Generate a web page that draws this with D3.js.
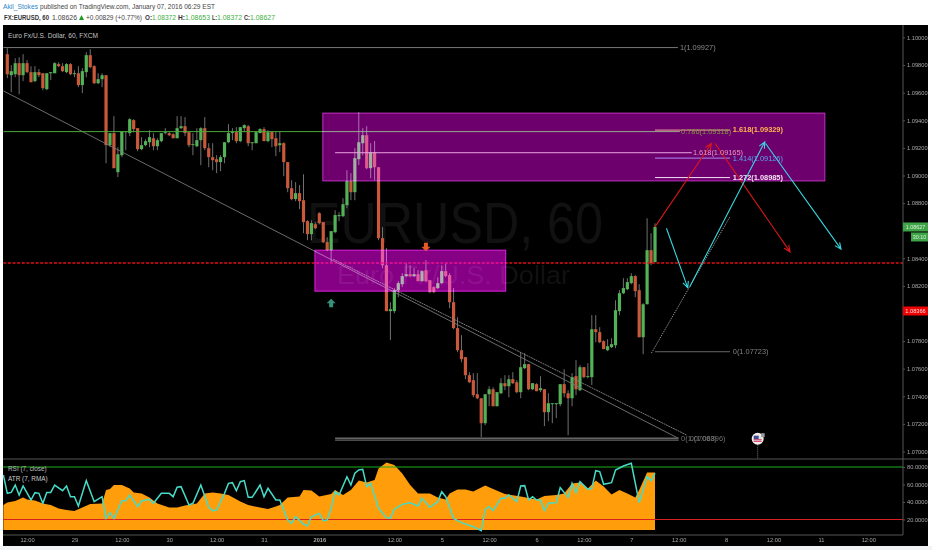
<!DOCTYPE html>
<html><head><meta charset="utf-8">
<style>html,body{margin:0;padding:0;background:#fff;overflow:hidden}svg{display:block}text{font-family:"Liberation Sans",Arial,sans-serif}</style>
<script src="https://cdn.jsdelivr.net/npm/d3@7"></script></head><body>
<svg id="c" width="932" height="550"></svg>
<script>
// ---- candle data (EURUSD 60 min), one entry per bar
const opens=[1.09879,1.09727,1.09734,1.09814,1.09727,1.09814,1.09749,1.09684,1.09749,1.09741,1.09626,1.09741,1.09741,1.09807,1.09792,1.09749,1.09807,1.09734,1.09741,1.09655,1.09749,1.09872,1.09792,1.09669,1.09698,1.09727,1.09220,1.09307,1.09024,1.09147,1.09314,1.09307,1.09401,1.09343,1.09191,1.09220,1.09241,1.09270,1.09212,1.09249,1.09307,1.09307,1.09299,1.09270,1.09343,1.09357,1.09314,1.09220,1.09212,1.09256,1.09343,1.09198,1.09133,1.09118,1.09097,1.09133,1.09241,1.09307,1.09314,1.09249,1.09343,1.09357,1.09234,1.09234,1.09307,1.09336,1.09249,1.09314,1.09270,1.09220,1.09234,1.09097,1.08908,1.08829,1.08872,1.08821,1.08669,1.08575,1.08647,1.08727,1.08662,1.08517,1.08459,1.08589,1.08705,1.08705,1.08785,1.08959,1.08879,1.09118,1.09234,1.09292,1.09053,1.09169,1.09060,1.08546,1.08350,1.08017,1.08017,1.08169,1.08212,1.08271,1.08285,1.08271,1.08285,1.08234,1.08314,1.08241,1.08191,1.08184,1.08220,1.08307,1.08278,1.08082,1.07894,1.07734,1.07684,1.07553,1.07517,1.07415,1.07386,1.07205,1.07415,1.07451,1.07328,1.07422,1.07495,1.07473,1.07524,1.07502,1.07430,1.07604,1.07633,1.07451,1.07488,1.07444,1.07451,1.07285,1.07343,1.07343,1.07343,1.07488,1.07422,1.07386,1.07546,1.07444,1.07611,1.07539,1.07539,1.07886,1.07865,1.07799,1.07734,1.07756,1.07770,1.08017,1.08147,1.08176,1.08220,1.08271,1.08169,1.07828,1.08067,1.08459,1.08372];
const highs=[1.09922,1.09799,1.09850,1.09857,1.09879,1.09836,1.09792,1.09792,1.09771,1.09741,1.09741,1.09749,1.09821,1.09821,1.09814,1.09814,1.09814,1.09763,1.09792,1.09778,1.09893,1.09915,1.09799,1.09741,1.09741,1.09727,1.09307,1.09430,1.09205,1.09321,1.09321,1.09415,1.09408,1.09343,1.09278,1.09263,1.09328,1.09307,1.09270,1.09307,1.09343,1.09314,1.09307,1.09430,1.09430,1.09423,1.09314,1.09307,1.09343,1.09350,1.09423,1.09234,1.09234,1.09147,1.09147,1.09241,1.09372,1.09343,1.09350,1.09350,1.09372,1.09365,1.09241,1.09314,1.09343,1.09350,1.09328,1.09321,1.09321,1.09321,1.09241,1.09097,1.08966,1.08952,1.08930,1.09009,1.08676,1.08676,1.08662,1.08734,1.08662,1.08553,1.08597,1.08749,1.08734,1.08836,1.09038,1.09017,1.09198,1.09459,1.09343,1.09357,1.09234,1.09249,1.09060,1.08626,1.08474,1.08082,1.08184,1.08234,1.08292,1.08365,1.08350,1.08329,1.08314,1.08314,1.08386,1.08241,1.08198,1.08263,1.08350,1.08365,1.08292,1.08184,1.07973,1.07843,1.07684,1.07575,1.07568,1.07568,1.07386,1.07415,1.07473,1.07466,1.07430,1.07531,1.07553,1.07553,1.07575,1.07517,1.07720,1.07712,1.07633,1.07495,1.07495,1.07546,1.07451,1.07422,1.07350,1.07350,1.07488,1.07596,1.07444,1.07568,1.07662,1.07626,1.07611,1.07640,1.07988,1.07988,1.07901,1.07807,1.07814,1.07821,1.08096,1.08169,1.08256,1.08256,1.08292,1.08278,1.08212,1.08075,1.08690,1.08582,1.08653];
const lows=[1.09705,1.09604,1.09712,1.09589,1.09684,1.09741,1.09676,1.09676,1.09712,1.09618,1.09618,1.09691,1.09741,1.09785,1.09749,1.09741,1.09727,1.09712,1.09640,1.09597,1.09712,1.09778,1.09662,1.09662,1.09640,1.09089,1.09205,1.09053,1.08988,1.09133,1.09183,1.09285,1.09314,1.09176,1.09183,1.09212,1.09205,1.09183,1.09183,1.09241,1.09299,1.09285,1.09270,1.09270,1.09336,1.09285,1.09205,1.09147,1.09205,1.09075,1.09183,1.09060,1.09038,1.09017,1.09031,1.09089,1.09234,1.09256,1.09234,1.09241,1.09314,1.09212,1.09183,1.09234,1.09307,1.09249,1.09241,1.09205,1.09140,1.09169,1.08995,1.08879,1.08821,1.08814,1.08756,1.08582,1.08531,1.08531,1.08611,1.08647,1.08510,1.08452,1.08372,1.08582,1.08669,1.08698,1.08763,1.08821,1.08821,1.09075,1.09147,1.09046,1.08980,1.08966,1.08531,1.08329,1.08017,1.07807,1.08002,1.08118,1.08191,1.08263,1.08263,1.08263,1.08234,1.08234,1.08227,1.08147,1.08147,1.08176,1.08212,1.08263,1.08038,1.07886,1.07720,1.07647,1.07524,1.07495,1.07393,1.07379,1.07104,1.07191,1.07328,1.07328,1.07328,1.07415,1.07444,1.07393,1.07488,1.07422,1.07386,1.07597,1.07444,1.07444,1.07437,1.07430,1.07184,1.07220,1.07205,1.07242,1.07328,1.07393,1.07118,1.07328,1.07408,1.07437,1.07531,1.07531,1.07481,1.07792,1.07785,1.07742,1.07727,1.07749,1.07749,1.07988,1.08140,1.08169,1.08212,1.08118,1.07828,1.07705,1.08067,1.08350,1.08372];
const closes=[1.09734,1.09756,1.09814,1.09727,1.09814,1.09749,1.09676,1.09749,1.09727,1.09633,1.09741,1.09749,1.09814,1.09792,1.09756,1.09807,1.09734,1.09741,1.09655,1.09756,1.09872,1.09785,1.09669,1.09698,1.09727,1.09220,1.09307,1.09053,1.09154,1.09321,1.09321,1.09408,1.09336,1.09191,1.09220,1.09249,1.09278,1.09212,1.09256,1.09307,1.09314,1.09292,1.09270,1.09343,1.09357,1.09307,1.09220,1.09227,1.09256,1.09343,1.09198,1.09133,1.09111,1.09097,1.09133,1.09241,1.09307,1.09314,1.09249,1.09350,1.09365,1.09234,1.09241,1.09314,1.09336,1.09249,1.09314,1.09263,1.09212,1.09234,1.09097,1.08908,1.08829,1.08872,1.08814,1.08662,1.08575,1.08655,1.08618,1.08655,1.08517,1.08459,1.08597,1.08713,1.08713,1.08792,1.08959,1.08879,1.09126,1.09241,1.09292,1.09053,1.09169,1.09060,1.08546,1.08350,1.08017,1.08031,1.08169,1.08220,1.08271,1.08285,1.08271,1.08285,1.08234,1.08307,1.08234,1.08155,1.08155,1.08220,1.08307,1.08271,1.08082,1.07894,1.07734,1.07669,1.07553,1.07502,1.07408,1.07386,1.07205,1.07415,1.07451,1.07328,1.07430,1.07495,1.07473,1.07524,1.07495,1.07430,1.07611,1.07633,1.07451,1.07495,1.07437,1.07459,1.07285,1.07350,1.07350,1.07350,1.07488,1.07422,1.07386,1.07539,1.07451,1.07611,1.07539,1.07546,1.07886,1.07865,1.07792,1.07742,1.07763,1.07778,1.08024,1.08147,1.08184,1.08227,1.08271,1.08162,1.07828,1.08067,1.08459,1.08365,1.08627];
// ---- indicator pane, vertices
const atrBars=[-1,0,2,4,5,7,9,11,13,15,17,19,21,24,25,26,27,29,31,32,34,36,38,41,43,45,48,50,52,54,56,59,61,64,66,68,69,71,74,75,77,79,82,83,85,87,89,91,93,94,96,98,100,102,104,107,109,111,112,114,116,118,121,123,126,130,134,136,139,141,143,145,147,149,151,153,155,157,159,160,162,164];
const atrValues=[.00050,.00055,.00058,.00065,.00061,.00059,.00053,.00050,.00043,.00040,.00038,.00045,.00052,.00053,.00080,.00082,.00090,.00090,.00083,.00075,.00073,.00065,.00053,.00045,.00045,.00049,.00053,.00073,.00075,.00073,.00070,.00057,.00050,.00045,.00042,.00047,.00050,.00065,.00067,.00080,.00079,.00067,.00072,.00080,.00070,.00080,.00099,.00095,.00100,.00123,.00135,.00130,.00113,.00090,.00073,.00073,.00065,.00061,.00073,.00081,.00081,.00077,.00089,.00082,.00072,.00067,.00061,.00068,.00070,.00073,.00093,.00095,.00083,.00099,.00087,.00071,.00080,.00073,.00065,.00080,.00115,.00115];
const rsiBars=[-1,0,1,2,3,4,6,7,8,9,10,11,12,14,15,16,17,18,20,22,24,25,26,27,29,30,31,33,34,36,37,39,41,42,43,44,46,47,49,51,52,53,55,56,57,58,59,60,61,62,64,65,66,68,69,71,72,73,75,76,77,79,80,81,82,83,84,86,87,88,89,90,91,92,94,96,97,98,100,102,104,105,107,109,110,111,113,115,118,120,121,122,123,125,126,127,129,130,131,132,133,134,135,136,137,139,140,142,143,144,145,147,148,149,150,151,153,154,156,158,160,162,163,164];
const rsiValues=[70.9,49.9,51.0,59.4,48.0,58.3,42.3,50.7,49.9,38.5,51.0,51.0,59.4,52.9,58.3,46.1,46.1,35.4,64.4,40.4,46.1,21.3,27.8,21.3,41.5,41.5,48.0,34.7,41.1,43.0,38.5,49.9,49.9,46.1,56.8,57.5,36.6,38.5,59.4,33.9,30.1,30.8,49.9,61.3,62.1,52.9,63.2,64.4,45.3,45.3,59.4,46.1,55.6,42.3,42.3,19.4,15.6,23.2,14.8,12.6,23.2,27.0,18.7,19.4,32.8,51.8,48.0,68.9,59.4,72.8,76.6,77.3,57.5,61.3,32.8,22.1,21.3,31.6,37.3,39.2,35.4,44.2,33.9,40.4,51.8,46.1,21.3,16.4,11.8,7.2,31.6,34.7,30.1,44.2,44.2,48.0,40.4,58.3,58.7,42.3,46.1,42.3,42.3,30.1,38.5,39.2,56.4,45.3,61.3,50.7,63.2,54.5,55.6,75.8,74.7,60.2,62.1,76.6,81.1,84.2,39.2,68.9,64.4,72.8];
// ---- axes (1.08000 and 1.08600 sit under the price tags in the reference)
const priceTicks=[1.07,1.072,1.074,1.076,1.078,1.082,1.084,1.088,1.09,1.092,1.094,1.096,1.098,1.10];
const rsiTicks=[20,40,60,80];
const timeBars=[5,17,29,41,53,65,79,98,110,122,134,146,158,170,182,194,206,218];
const timeLabels=["12:00","29","12:00","30","12:00","31","2016","12:00","5","12:00","6","12:00","7","12:00","8","12:00","11","12:00"];
// ---- drawings, in [bar, price]
const fibLines=[
 {p:1.09927,a:-1,b:169.8,c:"#777",t:"1(1.09927)",tc:"#8a8a8a",tb:170.3},
 {p:1.09318,a:-1,b:170.3,c:"#4aa83a",t:"0.786(1.09318)",tc:"#7f9a3a",tb:170.6},
 {p:1.09165,a:83,b:173.3,c:"#d8a0c8",t:"1.618(1.09165)",tc:"#e79ac0",tb:173.6},
 {p:1.09329,a:164,b:183,c:"#e8a040",t:"1.618(1.09329)",tc:"#ffb84d",tb:183.7,bold:true},
 {p:1.09126,a:164,b:183,c:"#6a8ae0",t:"1.414(1.09126)",tc:"#55a8e8",tb:183.7},
 {p:1.08985,a:164,b:183,c:"#e8e0e8",t:"1.272(1.08985)",tc:"#f6e6f6",tb:183.7,bold:true},
 {p:1.07723,a:164,b:183,c:"#666",t:"0(1.07723)",tc:"#808080",tb:183.7}];
const floorPrices=[1.07096,1.07083];
const floorBars=[83,170];
const floorLabels=["0(1.07083)","0(1.06896)"];
const floorLabelBars=[170.6,172.8];
const trendA=[[-1,1.09613],[169.8,1.07097]];
const trendB=[[82.5,1.08394],[172.1,1.07118]];
const trendDotted=[[163.1,1.07713],[182.96,1.08700]];
const redArrows=[[[164,1.08628],[178.3,1.09232]],[[179.2,1.09232],[198.2,1.08447]]];
const cyanArrows=[[[166.9,1.08618],[172.3,1.08186]],[[172.8,1.08193],[191.8,1.09244]],[[192,1.09232],[211.1,1.08466]]];
const boxes=[{a:79.9,b:207,top:1.09452,bot:1.08961,f:"#6e006e",s:"#c030c0"},{a:77.9,b:126.2,top:1.08459,bot:1.08162,f:"#860086",s:"#e020e0"}];
const lastPrice=1.08366, closePrice=1.08627;

const W=932,H=550,L=3,T=25,R=903,F=928,B=546,axisY=535,sepY=459;
const x=d3.scaleLinear().domain([0,164]).range([7.3,655]);
const y=d3.scaleLinear().domain([1.07,1.10]).range([451.5,37.5]);
const yR=d3.scaleLinear().domain([20,80]).range([519.5,467]);
const yA=d3.scaleLinear().domain([0,.00136]).range([530,462]);
const svg=d3.select("#c");
svg.append("rect").attr("width",W).attr("height",H).attr("fill","#fff");
svg.append("rect").attr("y",546).attr("width",W).attr("height",4).attr("fill","#f1f3f4");
svg.append("rect").attr("x",L).attr("y",T).attr("width",F-L).attr("height",B-T).attr("fill","#000");
const defs=svg.append("defs");
defs.append("clipPath").attr("id","main").append("rect").attr("x",L).attr("y",T).attr("width",R-L).attr("height",sepY-T);
defs.append("clipPath").attr("id","ind").append("rect").attr("x",L).attr("y",sepY).attr("width",R-L).attr("height",axisY-sepY);

// header
function seg(t,x0,x1,yy,fill,bold,size){svg.append("text").attr("x",x0).attr("y",yy).attr("fill",fill).attr("font-size",size).attr("font-weight",bold?"bold":"normal").attr("textLength",x1-x0).attr("lengthAdjust","spacingAndGlyphs").text(t);}
seg("Akil_Stokes",3,38,9.3,"#2f86c8",false,7.6);
seg("published on TradingView.com, January 07, 2016 06:29 EST",40,215,9.3,"#444",false,7.4);
seg("FX:EURUSD, 60",4,49,19.7,"#333",true,6.8);
seg("1.08626",52,77,19.7,"#444",false,7);
seg("+0.00829 (+0.77%)",86,142,19.7,"#444",false,7);
[["O:",145,152,1.08372,152,176],["H:",178,185,1.08653,185,210],["L:",212,217,1.08372,217,242],["C:",244,250,1.08627,250,275]].forEach(d=>{seg(d[0],d[1],d[2],19.7,"#333",true,6.8);seg(d[3].toFixed(5),d[4],d[5],19.7,"#3dae3d",false,7);});
svg.append("path").attr("d","M79,20L84,20L81.5,15Z").attr("fill","#1a9a1a");
svg.append("text").attr("x",8).attr("y",37.5).attr("font-size",7.4).attr("fill","#c4c4c4").attr("textLength",90).attr("lengthAdjust","spacingAndGlyphs").text("Euro Fx/U.S. Dollar, 60, FXCM");

// watermark
const gm=svg.append("g").attr("clip-path","url(#main)");
gm.append("text").attr("x",307).attr("y",243).attr("font-size",57).attr("fill","#111").attr("textLength",296).attr("lengthAdjust","spacingAndGlyphs").text("EURUSD, 60");
gm.append("text").attr("x",337).attr("y",284).attr("font-size",25).attr("fill","#111").attr("textLength",233).attr("lengthAdjust","spacingAndGlyphs").text("Euro Fx/U.S. Dollar");

// candles
const bars=opens.map((o,i)=>({i,o,h:highs[i],l:lows[i],c:closes[i]}));
const up="#53b257",dn="#c9593a";
gm.selectAll("line.w").data(bars).join("line").attr("class","w").attr("x1",d=>x(d.i)).attr("x2",d=>x(d.i)).attr("y1",d=>y(d.h)).attr("y2",d=>y(d.l)).attr("stroke","#707070").attr("stroke-width",1);
gm.selectAll("rect.b").data(bars).join("rect").attr("class","b").attr("x",d=>x(d.i)-1.6).attr("width",3.2).attr("y",d=>y(Math.max(d.o,d.c))).attr("height",d=>Math.max(.8,Math.abs(y(d.o)-y(d.c)))).attr("fill",d=>d.c>=d.o?up:dn);

// lines below the boxes
const ln=d3.line().x(d=>x(d[0])).y(d=>y(d[1]));
gm.append("path").attr("d",ln([[-1,lastPrice],[240,lastPrice]])).attr("stroke","#e01010").attr("stroke-width",1.4).attr("stroke-dasharray","3 1.6").attr("fill","none");
gm.append("path").attr("d",ln(trendA)).attr("stroke","#777").attr("stroke-width",.9).attr("fill","none");
gm.append("path").attr("d",ln(trendB)).attr("stroke","#888").attr("stroke-width",.9).attr("stroke-dasharray","2 .6").attr("fill","none");
gm.append("path").attr("d",ln(trendDotted)).attr("stroke","#999").attr("stroke-width",1).attr("stroke-dasharray","1.2 1").attr("fill","none");
fibLines.forEach(f=>gm.append("path").attr("d",ln([[f.a,f.p],[f.b,f.p]])).attr("stroke",f.c).attr("stroke-width",1).attr("fill","none"));
floorPrices.forEach(p=>gm.append("path").attr("d",ln([[floorBars[0],p],[floorBars[1],p]])).attr("stroke","#666").attr("stroke-width",1.3).attr("fill","none"));

// boxes, blended with what is below them
boxes.forEach(b=>gm.append("rect").attr("x",x(b.a)).attr("width",x(b.b)-x(b.a)).attr("y",y(b.top)).attr("height",y(b.bot)-y(b.top)).attr("fill",b.f).attr("stroke",b.s).attr("stroke-width",1).style("mix-blend-mode","screen"));

// arrows
function arrow(a,col){
 const p0=[x(a[0][0]),y(a[0][1])],p1=[x(a[1][0]),y(a[1][1])],th=Math.atan2(p1[1]-p0[1],p1[0]-p0[0]),s=7,w=.42;
 gm.append("path").attr("d",`M${p0}L${p1}M${p1[0]-s*Math.cos(th-w)},${p1[1]-s*Math.sin(th-w)}L${p1}L${p1[0]-s*Math.cos(th+w)},${p1[1]-s*Math.sin(th+w)}`).attr("stroke",col).attr("stroke-width",1.1).attr("fill","none");
}
redArrows.forEach(a=>arrow(a,"#d81818"));
cyanArrows.forEach(a=>arrow(a,"#35d8e0"));

// fib labels
fibLines.forEach(f=>gm.append("text").attr("x",x(f.tb)).attr("y",y(f.p)+2.4).attr("font-size",7.4).attr("font-weight",f.bold?"bold":"normal").attr("fill",f.tc).text(f.t));
floorLabels.forEach((t,i)=>gm.append("text").attr("x",x(floorLabelBars[i])).attr("y",y(floorPrices[0])+3).attr("font-size",7.4).attr("fill","#707070").text(t));

// pattern arrows
function blockArrow(bar,price,dir,col){const X=x(bar),Y=y(price);gm.append("path").attr("transform",`translate(${X},${Y}) scale(1,${dir})`).attr("d","M0,-4.5L4.5,0L2,0L2,4L-2,4L-2,0L-4.5,0Z").attr("fill",col);}
blockArrow(106,1.08483,-1,"#e8582a");
blockArrow(82,1.08075,1,"#3a8f7a");

// flag event
{const X=x(190),Y=y(1.07093);
 gm.append("line").attr("x1",X).attr("x2",X).attr("y1",Y+6).attr("y2",sepY).attr("stroke","#777").attr("stroke-dasharray","1 1");
 gm.append("circle").attr("cx",X).attr("cy",Y).attr("r",6).attr("fill","#f4eef0");
 gm.append("rect").attr("x",X-4).attr("y",Y-3).attr("width",8).attr("height",6).attr("fill","#e8dfe6");
 gm.append("rect").attr("x",X-4).attr("y",Y+.5).attr("width",8).attr("height",1.2).attr("fill","#c84060");
 gm.append("rect").attr("x",X-4).attr("y",Y+2.3).attr("width",8).attr("height",1).attr("fill","#d85070");
 gm.append("rect").attr("x",X-4).attr("y",Y-3).attr("width",5).attr("height",3.4).attr("fill","#3f4f90");
 gm.append("rect").attr("x",X+3.5).attr("y",Y-5.5).attr("width",3.5).attr("height",4).attr("fill","#999");
}

// indicator pane
const gi=svg.append("g").attr("clip-path","url(#ind)");
const atr=atrBars.map((b,i)=>[b,atrValues[i]]);
gi.append("path").attr("d",d3.area().x(d=>x(d[0])).y0(yA(0)).y1(d=>yA(d[1]))(atr)).attr("fill","#ff9d0a");
gi.append("line").attr("x1",L).attr("x2",R).attr("y1",yR(80)).attr("y2",yR(80)).attr("stroke","#18b018").attr("stroke-width",1.2);
gi.append("line").attr("x1",L).attr("x2",R).attr("y1",yR(20)).attr("y2",yR(20)).attr("stroke","#d82020").attr("stroke-width",1);
gi.append("path").attr("d",d3.line().x(d=>x(d[0])).y(d=>yR(d[1]))(rsiBars.map((b,i)=>[b,rsiValues[i]]))).attr("fill","none").attr("stroke","#46dcc8").attr("stroke-width",1.5);
gi.append("text").attr("x",8).attr("y",471).attr("font-size",6.4).attr("fill","#bbb").text("RSI (7, close)");
gi.append("text").attr("x",8).attr("y",481).attr("font-size",6.4).attr("fill","#ccc").text("ATR (7, RMA)");

// frame
[[L,R,sepY,sepY],[L,R,axisY,axisY]].forEach(l=>svg.append("line").attr("x1",l[0]).attr("x2",l[1]==R&&l[2]==sepY?F:l[1]).attr("y1",l[2]).attr("y2",l[3]).attr("stroke","#555"));
svg.append("line").attr("x1",R).attr("x2",R).attr("y1",T).attr("y2",axisY).attr("stroke","#555");

// axes
function styleAxis(g){g.select(".domain").remove();g.selectAll("line").attr("stroke","#555");g.selectAll("text").attr("fill","#a8a8a8").attr("font-size",5.7).attr("font-family",'"Liberation Sans",Arial,sans-serif');}
svg.append("g").attr("transform",`translate(${R},0)`).call(d3.axisRight(y).tickValues(priceTicks).tickFormat(d3.format(".5f")).tickSize(2).tickPadding(2)).call(styleAxis);
svg.append("g").attr("transform",`translate(${R},0)`).call(d3.axisRight(yR).tickValues(rsiTicks).tickFormat(d3.format(".4f")).tickSize(2).tickPadding(2)).call(styleAxis);
const tg=svg.append("g").attr("transform",`translate(0,${axisY})`).call(d3.axisBottom(x).tickValues(timeBars).tickFormat((d,i)=>timeLabels[i]).tickSize(0).tickPadding(3.2)).call(styleAxis);
tg.selectAll("text").filter((d,i)=>timeLabels[i]==="2016").attr("font-weight","bold");

// price tags
function tag(x0,yy,h,fill,t,col,size){svg.append("rect").attr("x",x0).attr("y",yy-h/2).attr("width",F-x0).attr("height",h).attr("fill",fill);
 svg.append("text").attr("x",(x0+F)/2).attr("y",yy+1.9).attr("text-anchor","middle").attr("font-size",size).attr("fill",col).text(t);}
tag(R,y(closePrice),9,"#3fa348",closePrice.toFixed(5),"#d8f0d8",5.4);
tag(911,y(closePrice)+10,9,"#3fa348","30:10","#d8f0d8",5.4);
tag(R,311,9,"#f00000",lastPrice.toFixed(5),"#ffdcdc",5.7);
</script></body></html>
